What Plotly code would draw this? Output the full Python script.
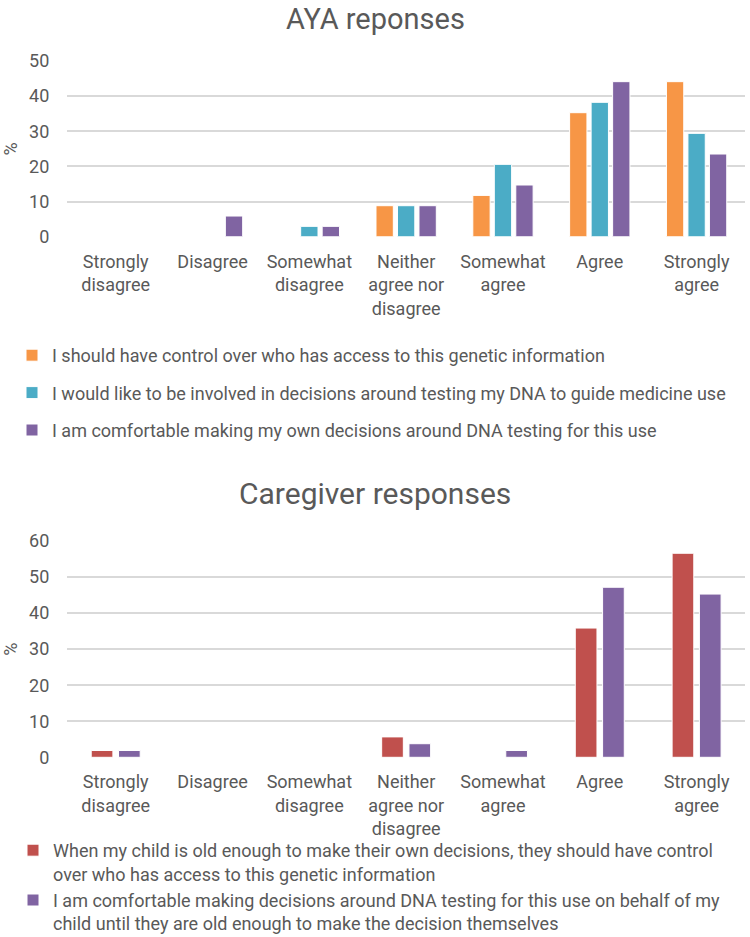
import plotly.graph_objects as go

categories = ["Strongly<br>disagree", "Disagree", "Somewhat<br>disagree",
              "Neither<br>agree nor<br>disagree", "Somewhat<br>agree", "Agree",
              "Strongly<br>agree"]

aya_names = [
    "I should have control over who has access to this genetic information",
    "I would like to be involved in decisions around testing my DNA to guide medicine use",
    "I am comfortable making my own decisions around DNA testing for this use",
]
aya_control = [0, 0, 0, 8.82, 11.76, 35.29, 44.12]
aya_involved = [0, 0, 2.94, 8.82, 20.59, 38.24, 29.41]
aya_comfortable = [0, 5.88, 2.94, 8.82, 14.71, 44.12, 23.53]
aya_colors = ["#F79646", "#4BACC6", "#8064A2"]

cg_names = [
    "When my child is old enough to make their own decisions, they should have control<br>over who has access to this genetic information",
    "I am comfortable making decisions around DNA testing for this use on behalf of my<br>child until they are old enough to make the decision themselves",
]
cg_control = [1.89, 0, 0, 5.66, 0, 35.85, 56.60]
cg_comfortable = [1.89, 0, 0, 3.77, 1.89, 47.17, 45.28]
cg_colors = ["#C0504D", "#8064A2"]

FONT = "Roboto, Arial, sans-serif"
TXT = "#595959"
GRID = "#D9D9D9"

fig = go.Figure()

aya_series = [aya_control, aya_involved, aya_comfortable]
pitch, bw = 0.222, 0.179
for i, (vals, name, col) in enumerate(zip(aya_series, aya_names, aya_colors)):
    fig.add_trace(go.Bar(
        x=categories, y=vals, name=name, xaxis="x", yaxis="y",
        marker=dict(color=col, line=dict(color="white", width=1)),
        width=bw, offset=(i - 1) * pitch - bw / 2,
        legend="legend", legendgroup=f"a{i}",
    ))

cg_series = [cg_control, cg_comfortable]
pitch2, bw2 = 0.282, 0.224
for i, (vals, name, col) in enumerate(zip(cg_series, cg_names, cg_colors)):
    fig.add_trace(go.Bar(
        x=categories, y=vals, name=name, xaxis="x2", yaxis="y2",
        marker=dict(color=col, line=dict(color="white", width=1)),
        width=bw2, offset=(i - 0.5) * pitch2 - bw2 / 2,
        legend="legend2", legendgroup=f"c{i}",
    ))

W, H = 750, 937
xdom = [67.3 / W, 745 / W]
ydom1 = [1 - 236.7 / H, 1 - 61 / H]
ydom2 = [1 - 757.3 / H, 1 - 541 / H]

xcommon = dict(domain=xdom, showgrid=False, showline=False, ticks="",
               tickfont=dict(family=FONT, size=18, color=TXT),
               ticklabelstandoff=12, fixedrange=True, automargin=False)
ycommon = dict(showgrid=True, gridcolor=GRID, gridwidth=1.5, zeroline=False,
               showline=False, ticks="", dtick=10, automargin=False,
               tickfont=dict(family=FONT, size=18, color=TXT),
               ticklabelstandoff=17,
               title=dict(text="%", font=dict(family=FONT, size=18, color=TXT), standoff=10))

fig.update_layout(
    width=W, height=H, margin=dict(l=0, r=0, t=0, b=0, pad=0, autoexpand=False),
    paper_bgcolor="white", plot_bgcolor="white",
    barmode="overlay", showlegend=True,
    font=dict(family=FONT, color=TXT),
    xaxis=dict(**xcommon, anchor="y"),
    yaxis=dict(**ycommon, domain=ydom1, range=[0, 50], anchor="x"),
    xaxis2=dict(**xcommon, anchor="y2"),
    yaxis2=dict(**ycommon, domain=ydom2, range=[0, 60], anchor="x2"),
    legend=dict(x=12 / W, y=1 - 337 / H, xanchor="left", yanchor="top",
                font=dict(family=FONT, size=18, color=TXT),
                traceorder="grouped", tracegroupgap=11, itemclick=False,
                bgcolor="rgba(0,0,0,0)"),
    legend2=dict(x=13 / W, y=1 - 832 / H, xanchor="left", yanchor="top",
                 font=dict(family=FONT, size=18, color=TXT),
                 traceorder="grouped", tracegroupgap=0, valign="top",
                 itemclick=False, bgcolor="rgba(0,0,0,0)"),
    annotations=[
        dict(text="AYA reponses", x=0.5, y=1.0, xref="paper", yref="paper",
             yanchor="top", showarrow=False, font=dict(family=FONT, size=29, color=TXT)),
        dict(text="Caregiver responses", x=0.5, y=1 - 493 / H, xref="paper", yref="paper",
             yanchor="middle", showarrow=False, font=dict(family=FONT, size=30, color=TXT)),
    ],
)

fig.write_html("out.html")
